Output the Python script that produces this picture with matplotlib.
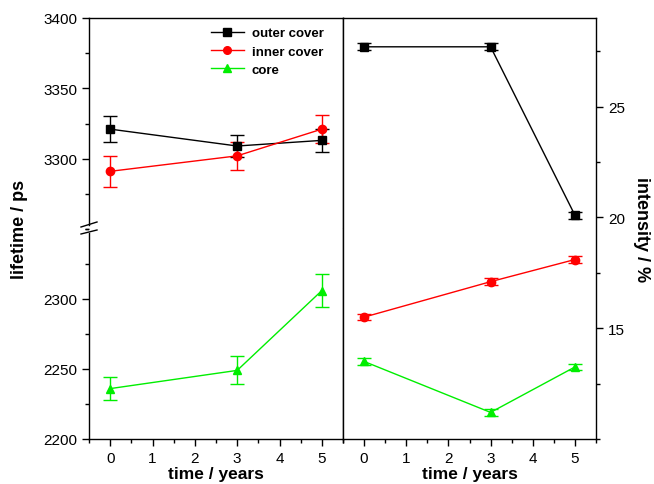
import numpy as np
import matplotlib
matplotlib.use('Agg')
from matplotlib import pyplot as plt
from matplotlib.ticker import MultipleLocator
from matplotlib.lines import Line2D

plt.rcParams['font.family'] = ['Liberation Sans', 'DejaVu Sans']

# data
years = [0, 3, 5]
labels = ['outer cover', 'inner cover', 'core']
colors = ['black', 'red', '#00ee00']
markers = ['s', 'o', '^']

life_outer = [3321, 3309, 3313]
life_outer_err = [9, 7.5, 8]
life_inner = [3291, 3302, 3321]
life_inner_err = [11, 10, 10]
life_core = [2236, 2249, 2306]
life_core_err = [8, 10, 12]

int_outer = [27.7, 27.7, 20.1]
int_inner = [15.5, 17.1, 18.1]
int_core = [13.5, 11.2, 13.25]
int_err = [0.15, 0.15, 0.15]

W, H = 654, 485
fig = plt.figure(figsize=(W/100, H/100), dpi=100)

L, M, R = 89/W, 343/W, 596/W
B, T = 1-440/H, 1-19/H
S = 1-230/H

ax_up = fig.add_axes([L, S, M-L, T-S])
ax_lo = fig.add_axes([L, B, M-L, S-B])
ax_r = fig.add_axes([M, B, R-M, T-B])

def style(ax):
    ax.tick_params(direction='out', length=5, width=1, labelsize=11, color='black')
    ax.tick_params(which='minor', direction='out', length=3, width=1)
    ax.set_xlim(-0.5, 5.5)
    ax.xaxis.set_major_locator(MultipleLocator(1))
    ax.xaxis.set_minor_locator(MultipleLocator(0.5))
    for s in ax.spines.values():
        s.set_linewidth(1)

for ax in (ax_up, ax_lo, ax_r):
    style(ax)

kw = dict(capsize=5, markersize=6, lw=1, elinewidth=1, capthick=1)

# left: lifetime, broken axis
ax_up.errorbar(years, life_outer, yerr=life_outer_err, fmt='-' + markers[0], color=colors[0], **kw)
ax_up.errorbar(years, life_inner, yerr=life_inner_err, fmt='-' + markers[1], color=colors[1], **kw)
ax_lo.errorbar(years, life_core, yerr=life_core_err, fmt='-' + markers[2], color=colors[2], **kw)

ax_up.set_ylim(3250, 3400)
ax_lo.set_ylim(2200, 2350)
ax_up.yaxis.set_minor_locator(MultipleLocator(25))
ax_lo.yaxis.set_minor_locator(MultipleLocator(25))
ax_up.set_yticks([3300, 3350, 3400])
ax_lo.set_yticks([2200, 2250, 2300])

ax_up.spines['bottom'].set_visible(False)
ax_lo.spines['top'].set_visible(False)
ax_up.spines['left'].set_bounds(3253, 3400)
ax_lo.spines['left'].set_bounds(2200, 2347.5)
ax_up.tick_params(axis='x', which='both', bottom=False, labelbottom=False)

# break marks (pixel positions -> figure fraction)
for (x0, y0, x1, y1) in [(81, 228, 97, 223), (81, 235, 97, 231)]:
    fig.add_artist(Line2D([x0/W, x1/W], [1-y0/H, 1-y1/H], color='black', lw=1))

ax_lo.set_xlabel('time / years', fontsize=12.5, fontweight='bold', labelpad=1)
fig.text(0.03, (B + T) / 2, 'lifetime / ps', rotation=90, ha='center', va='center',
         fontsize=13, fontweight='bold')

handles = [Line2D([], [], color=c, marker=m, markersize=5.5, lw=1) for c, m in zip(colors, markers)]
leg = ax_up.legend(handles, labels, loc='upper right', frameon=False, fontsize=9.5,
                   handlelength=2.5, borderaxespad=0.3, labelspacing=0.45, handletextpad=0.6,
                   bbox_to_anchor=(0.96, 1.0))
for t in leg.get_texts():
    t.set_fontweight('bold')

# right: intensity
ax_r.errorbar(years, int_outer, yerr=int_err, fmt='-' + markers[0], color=colors[0], **kw)
ax_r.errorbar(years, int_inner, yerr=int_err, fmt='-' + markers[1], color=colors[1], **kw)
ax_r.errorbar(years, int_core, yerr=int_err, fmt='-' + markers[2], color=colors[2], **kw)
ax_r.set_ylim(10, 29)
ax_r.yaxis.set_minor_locator(MultipleLocator(2.5))
ax_r.set_yticks([15, 20, 25])
ax_r.yaxis.tick_right()
ax_r.tick_params(axis='y', which='both', left=False)
ax_r.yaxis.set_label_position('right')
ax_r.set_ylabel('intensity / %', rotation=270, fontsize=13, fontweight='bold', labelpad=18)
ax_r.set_xlabel('time / years', fontsize=12.5, fontweight='bold', labelpad=1)

fig.savefig('out.png', dpi=100)
